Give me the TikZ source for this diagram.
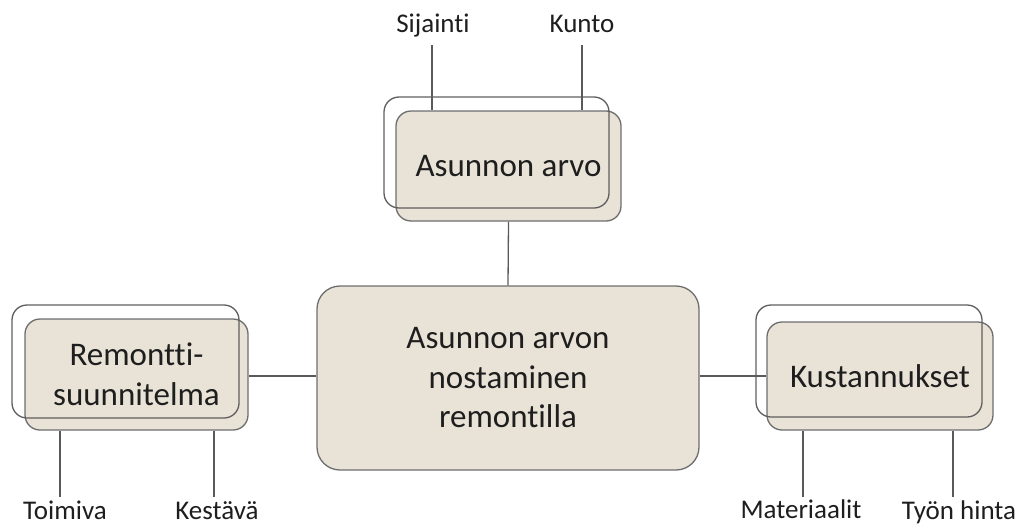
\documentclass[tikz,border=0pt]{standalone}
\usepackage{fontspec}
\setmainfont{Carlito}[Ligatures={NoCommon}]
\definecolor{boxfill}{RGB}{233,226,214}
\definecolor{boxline}{RGB}{110,110,110}
\definecolor{outl}{RGB}{95,95,95}
\definecolor{lineg}{RGB}{90,90,90}
\definecolor{txt}{RGB}{30,30,30}
\begin{document}
\begin{tikzpicture}[x=1pt,y=-1pt,
  filledbox/.style={draw=boxline, fill=boxfill, rounded corners=15pt, line width=1.3pt, inner sep=0pt,
     font=\fontsize{33}{40}\selectfont, text=txt, align=center},
  outlinebox/.style={draw=outl, rounded corners=15pt, line width=1.3pt, inner sep=0pt},
  lbl/.style={font=\fontsize{27}{32}\selectfont, text=txt, inner sep=0pt, anchor=base},
  link/.style={draw=lineg, line width=1.3pt}]
\useasboundingbox (0,0) rectangle (1027,525);
% main
\node[filledbox, minimum width=382pt, minimum height=184pt, rounded corners=23pt,
      font=\fontsize{33}{39.5}\selectfont] (main) at (508,378) {Asunnon arvon\\nostaminen\\remontilla};
% top
\node[filledbox, minimum width=225pt, minimum height=110pt] (topF) at (508.5,166) {Asunnon arvo};
\node[outlinebox, minimum width=225pt, minimum height=111pt] (topO) at (496.5,152.5) {};
% left
\node[filledbox, minimum width=223pt, minimum height=111pt] (leftF) at (136.5,374.5) {Remontti-\\suunnitelma};
\node[outlinebox, minimum width=227pt, minimum height=113pt] (leftO) at (125.5,361.5) {};
% right
\node[filledbox, minimum width=226pt, minimum height=108pt] (rightF) at (880,376) {Kustannukset};
\node[outlinebox, minimum width=226pt, minimum height=112pt] (rightO) at (869,361) {};
% connectors
\draw[link] (topF.south) -- (main.north);
\draw[link] (main.west) ++(0,-2) coordinate (mw) -- (mw -| leftF.east);
\draw[link] (main.east) ++(0,-2) coordinate (me) -- (me -| rightF.west);
% labels
\node[lbl] (sij) at (433,32) {Sijainti};
\node[lbl] (kun) at (582,32) {Kunto};
\node[lbl] (toi) at (65,519) {Toimiva};
\node[lbl] (kes) at (217,519) {Kestävä};
\node[lbl] (mat) at (801,518) {Materiaalit};
\node[lbl] (tyo) at (959,519) {Työn hinta};
\coordinate (sijE) at (432,45);
\coordinate (kunE) at (582,45);
\coordinate (toiE) at (60,497);
\coordinate (kesE) at (214,497);
\coordinate (matE) at (803,497);
\coordinate (tyoE) at (953,497);
\draw[link] (sijE) -- (sijE |- topF.north);
\draw[link] (kunE) -- (kunE |- topF.north);
\draw[link] (toiE) -- (toiE |- leftF.south);
\draw[link] (kesE) -- (kesE |- leftF.south);
\draw[link] (matE) -- (matE |- rightF.south);
\draw[link] (tyoE) -- (tyoE |- rightF.south);
\end{tikzpicture}
\end{document}
